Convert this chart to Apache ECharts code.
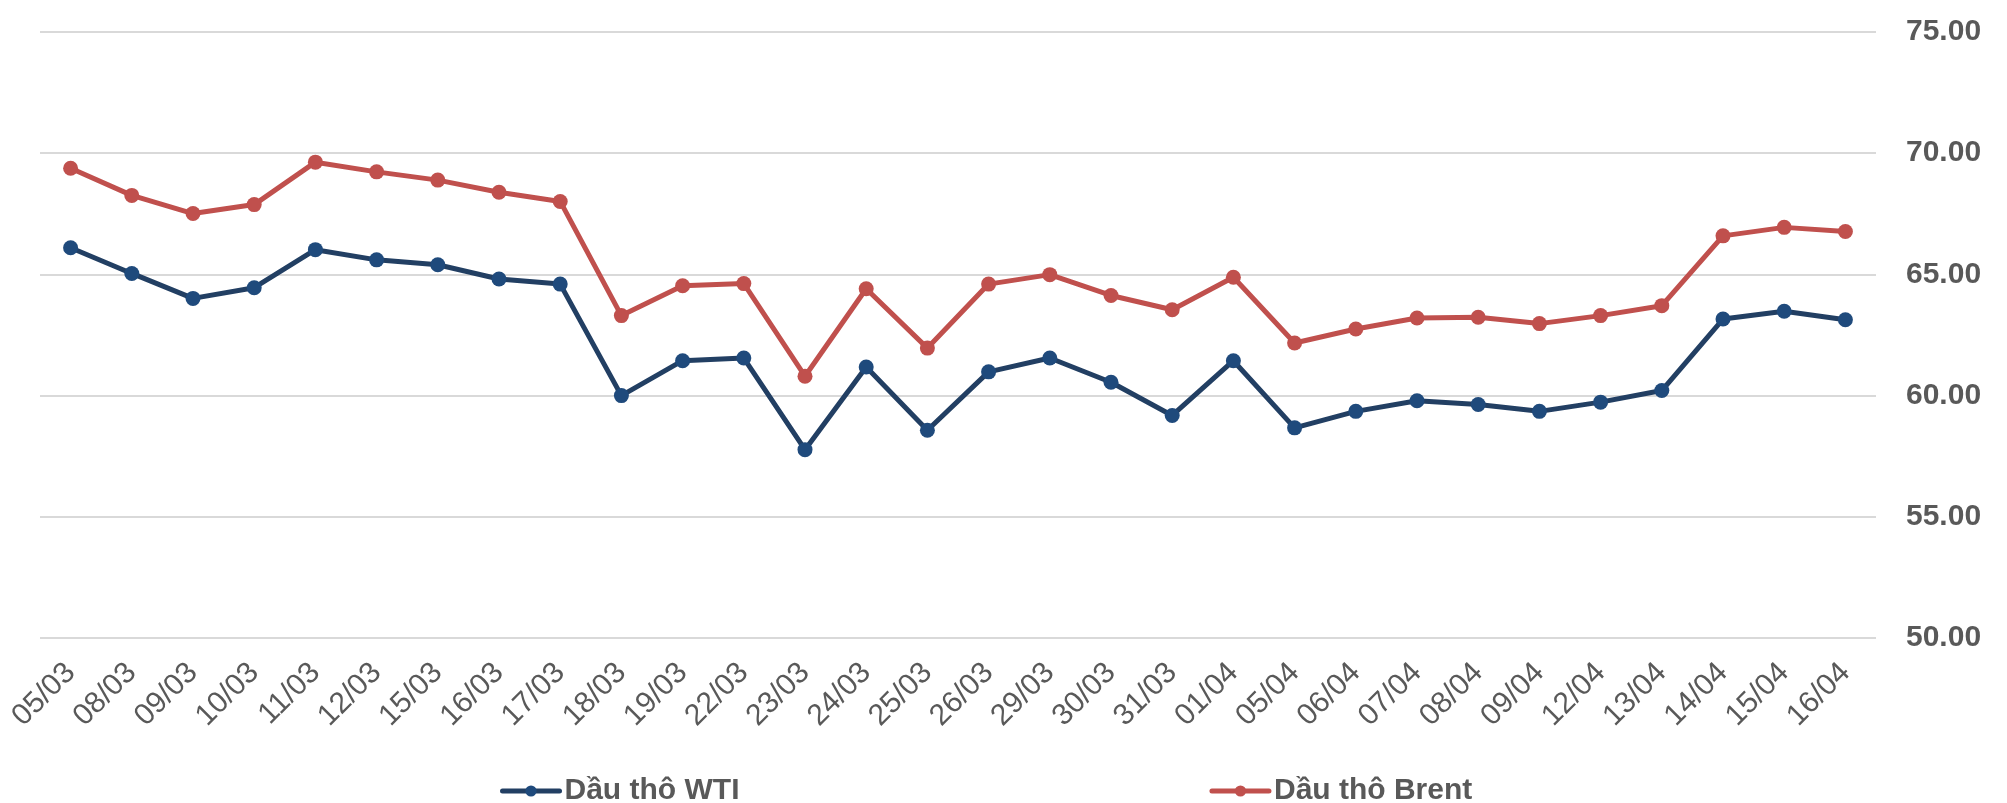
<!DOCTYPE html>
<html>
<head>
<meta charset="utf-8">
<script src="https://cdn.jsdelivr.net/npm/echarts@6/dist/echarts.min.js"></script>
<style>
  html, body { margin: 0; padding: 0; background: #fff; }
  #chart { width: 2007px; height: 803px; }
</style>
</head>
<body>
<div id="chart"></div>
<script>
const days = ['05/03', '08/03', '09/03', '10/03', '11/03', '12/03', '15/03', '16/03', '17/03', '18/03',
  '19/03', '22/03', '23/03', '24/03', '25/03', '26/03', '29/03', '30/03', '31/03', '01/04',
  '05/04', '06/04', '07/04', '08/04', '09/04', '12/04', '13/04', '14/04', '15/04', '16/04'];

const wti = [66.10, 65.04, 64.01, 64.45, 66.02, 65.60, 65.40, 64.81, 64.60, 60.00,
  61.44, 61.55, 57.77, 61.18, 58.57, 60.98, 61.55, 60.55, 59.18, 61.44,
  58.67, 59.35, 59.79, 59.63, 59.35, 59.73, 60.21, 63.16, 63.48, 63.13];

const brent = [69.38, 68.26, 67.51, 67.88, 69.63, 69.23, 68.89, 68.39, 68.01, 63.30,
  64.53, 64.62, 60.80, 64.41, 61.96, 64.60, 64.99, 64.13, 63.54, 64.88,
  62.17, 62.75, 63.20, 63.23, 62.97, 63.30, 63.71, 66.59, 66.94, 66.77];

const font = "'Liberation Sans', Arial, sans-serif";
const grey = '#595959';

const chart = echarts.init(document.getElementById('chart'));

const option = {
  animation: false,
  backgroundColor: '#fff',
  grid: {
    left: 40,
    right: 131,
    top: 32,
    bottom: 165
  },
  legend: {
    top: 771,
    left: 495,
    itemGap: 470,
    itemWidth: 57,
    itemHeight: 14,
    lineStyle: { width: 5, cap: 'round' },
    textStyle: {
      fontFamily: font,
      fontSize: 30,
      fontWeight: 'bold',
      color: grey
    },
    data: ['Dầu thô WTI', 'Dầu thô Brent']
  },
  xAxis: {
    type: 'category',
    data: days,
    boundaryGap: true,
    axisLine: { show: false },
    axisTick: { show: false },
    axisLabel: {
      interval: 0,
      rotate: 45,
      margin: 30,
      fontFamily: font,
      fontSize: 30,
      color: grey
    }
  },
  yAxis: {
    type: 'value',
    position: 'right',
    min: 50,
    max: 75,
    interval: 5,
    axisLine: { show: false },
    axisTick: { show: false },
    axisLabel: {
      margin: 30,
      fontFamily: font,
      fontSize: 30,
      fontWeight: 'bold',
      color: grey,
      formatter: (v) => v.toFixed(2)
    },
    splitLine: {
      lineStyle: { color: '#D9D9D9', width: 2 }
    }
  },
  series: [
    {
      name: 'Dầu thô WTI',
      type: 'line',
      data: wti,
      symbol: 'circle',
      symbolSize: 15,
      itemStyle: { color: '#1F4A7C' },
      lineStyle: { color: '#223F63', width: 5 }
    },
    {
      name: 'Dầu thô Brent',
      type: 'line',
      data: brent,
      symbol: 'circle',
      symbolSize: 15,
      itemStyle: { color: '#C0504D' },
      lineStyle: { color: '#C0504D', width: 5 }
    }
  ]
};

chart.setOption(option);
</script>
</body>
</html>
